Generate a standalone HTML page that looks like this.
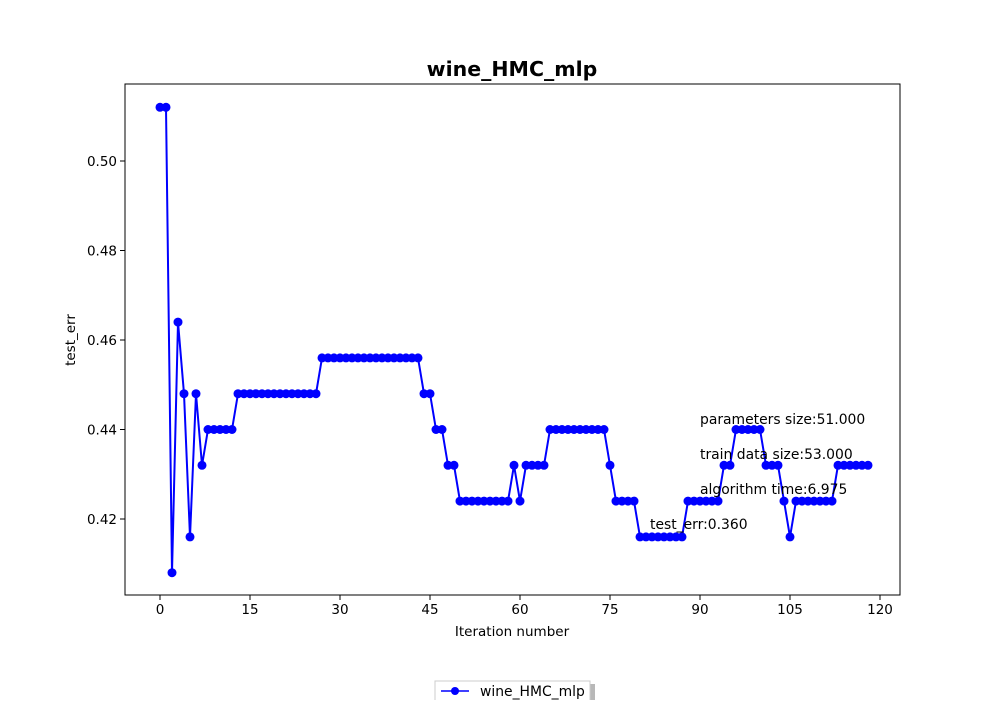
<!DOCTYPE html>
<html><head><meta charset="utf-8"><style>
body{margin:0;background:#fff;width:1000px;height:700px;overflow:hidden;font-family:"Liberation Sans","DejaVu Sans",sans-serif}
</style></head><body>
<svg id="c" width="1000" height="700" font-family="DejaVu Sans, Liberation Sans, sans-serif">
<rect x="125" y="84" width="775" height="511" fill="none" stroke="#000" stroke-width="1"/>
<text x="512" y="76" text-anchor="middle" font-size="20.5" font-weight="bold">wine_HMC_mlp</text>
<text x="512" y="636" text-anchor="middle" font-size="13.5">Iteration number</text>
<text transform="translate(75,340) rotate(-90)" text-anchor="middle" font-size="13.5">test_err</text>
<g id="ax"></g><g id="mk"></g>
<g font-size="13.9">
<text x="700" y="424">parameters size:51.000</text>
<text x="700" y="459">train data size:53.000</text>
<text x="700" y="494">algorithm time:6.975</text>
<text x="650" y="529">test_err:0.360</text>
</g>
<g>
<rect x="438" y="684" width="157" height="24" fill="#888" opacity="0.6"/>
<rect x="435" y="681" width="155" height="24" fill="#fff" stroke="#ccc"/>
<line x1="441" y1="691" x2="469" y2="691" stroke="#0000ff" stroke-width="1.5"/>
<circle cx="455" cy="691" r="4" fill="#0000ff"/>
<text x="480" y="696" font-size="13.9">wine_HMC_mlp</text>
</g>
</svg>
<script>
const xTicks=[0,15,30,45,60,75,90,105,120];
const yTicks=[0.42,0.44,0.46,0.48,0.50];
const yTickLabels=["0.42","0.44","0.46","0.48","0.50"];
const values=[0.512,0.512,0.408,0.464,0.448,0.416,0.448,0.432,
0.440,0.440,0.440,0.440,0.440,
0.448,0.448,0.448,0.448,0.448,0.448,0.448,0.448,0.448,0.448,0.448,0.448,0.448,0.448,
0.456,0.456,0.456,0.456,0.456,0.456,0.456,0.456,0.456,0.456,0.456,0.456,0.456,0.456,0.456,0.456,0.456,
0.448,0.448,0.440,0.440,0.432,0.432,
0.424,0.424,0.424,0.424,0.424,0.424,0.424,0.424,0.424,
0.432,0.424,0.432,0.432,0.432,0.432,
0.440,0.440,0.440,0.440,0.440,0.440,0.440,0.440,0.440,0.440,
0.432,0.424,0.424,0.424,0.424,
0.416,0.416,0.416,0.416,0.416,0.416,0.416,0.416,
0.424,0.424,0.424,0.424,0.424,0.424,
0.432,0.432,0.440,0.440,0.440,0.440,0.440,
0.432,0.432,0.432,0.424,0.416,
0.424,0.424,0.424,0.424,0.424,0.424,0.424,
0.432,0.432,0.432,0.432,0.432,0.432];
const NS="http://www.w3.org/2000/svg";
const xs=v=>160+v*6, ys=v=>519-(v-0.42)*4475;
const ax=document.getElementById('ax'), mk=document.getElementById('mk');
function mkEl(t,a){const e=document.createElementNS(NS,t);for(const k in a)e.setAttribute(k,a[k]);return e;}
xTicks.forEach(t=>{
 const l=mkEl('line',{x1:xs(t),x2:xs(t),y1:595,y2:600,stroke:'#000'});
 
 
 ax.appendChild(l);
 const tx=mkEl('text',{x:xs(t),y:614,'text-anchor':'middle','font-size':13.5});
 tx.textContent=t;
 
 
 ax.appendChild(tx);
});
yTicks.forEach((t,i)=>{
 const l=mkEl('line',{x1:120,x2:125,y1:ys(t),y2:ys(t),stroke:'#000'});
 
 
 ax.appendChild(l);
 const tx=mkEl('text',{x:117,y:ys(t)+5,'text-anchor':'end','font-size':13.5});
 tx.textContent=yTickLabels[i];
 
 
 ax.appendChild(tx);
});
const pl=mkEl('polyline',{points:values.map((v,i)=>xs(i)+','+ys(v)).join(' '),fill:'none',stroke:'#0000ff','stroke-width':2});


mk.appendChild(pl);
values.forEach((v,i)=>{
 const c=mkEl('circle',{cx:xs(i),cy:ys(v),r:4.5,fill:'#0000ff'});
 
 
 mk.appendChild(c);
});
</script>
</body></html>
